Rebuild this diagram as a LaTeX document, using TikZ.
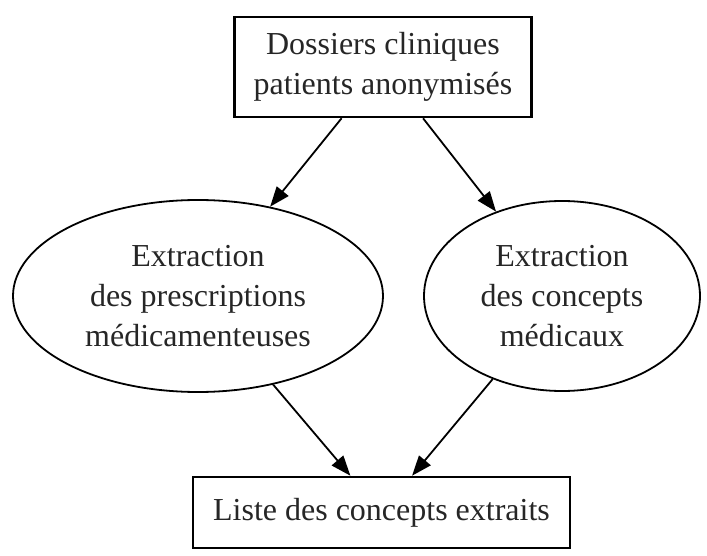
\documentclass[tikz,border=0pt]{standalone}
\usepackage{fontspec}
\setmainfont{Liberation Serif}
\usetikzlibrary{shapes.geometric,arrows.meta}
\begin{document}
\begin{tikzpicture}[x=1pt,y=-1pt,
  lbl/.style={font=\fontsize{32}{40}\selectfont, align=center, text=black!85, inner sep=0pt},
  boxnode/.style={lbl, draw, line width=2.6pt, rectangle},
  ellnode/.style={lbl, draw, line width=1.8pt, ellipse},
  conn/.style={line width=1.8pt, -{Triangle[length=20pt,width=15pt]}}]
\useasboundingbox (0,0) rectangle (707,556);
\node[boxnode, minimum width=297pt, minimum height=100pt] (top) at (383,67) {Dossiers cliniques\\patients anonymisés};
\node[ellnode, minimum width=370pt, minimum height=192pt] (left) at (198,296) {Extraction\\des prescriptions\\médicamenteuses};
\node[ellnode, minimum width=276pt, minimum height=190pt] (right) at (562,296) {Extraction\\des concepts\\médicaux};
\node[boxnode, minimum width=377pt, minimum height=71pt] (bot) at (381.5,512.5) {Liste des concepts extraits};
\draw[conn] (top) -- (left);
\draw[conn] (top) -- (right);
\draw[conn] (left) -- (bot);
\draw[conn] (right) -- (bot);
\end{tikzpicture}
\end{document}
